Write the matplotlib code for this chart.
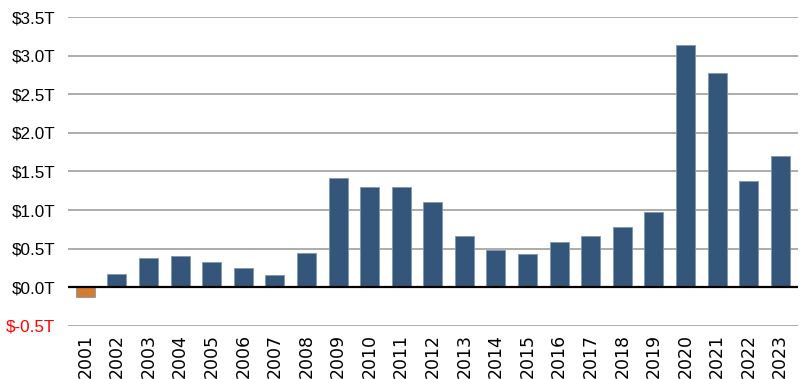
import matplotlib.pyplot as plt
import numpy as np

years = [str(y) for y in range(2001, 2024)]
values = [-0.12, 0.17, 0.38, 0.40, 0.33, 0.255, 0.165, 0.45, 1.415, 1.295,
          1.295, 1.10, 0.67, 0.48, 0.435, 0.585, 0.67, 0.78, 0.98, 3.135,
          2.77, 1.38, 1.705]
yticks = [-0.5, 0.0, 0.5, 1.0, 1.5, 2.0, 2.5, 3.0, 3.5]

fig = plt.figure(figsize=(8, 3.79), dpi=100)
ax = fig.add_axes([0.085, 0.14, 0.912, 0.815])

x = np.arange(len(years))
colors = ['#d47b2f' if v < 0 else '#34567a' for v in values]
ax.bar(x, values, width=0.6, color=colors, edgecolor='#7f97b0', linewidth=0.6, zorder=3)

for t in yticks:
    ax.axhline(t, color='#a6a6a6', lw=1.3, zorder=1)
ax.axhline(0, color='black', lw=1.6, zorder=4)

ax.set_xlim(-0.55, len(years) - 0.45)
ax.set_ylim(-0.5, 3.5)
ax.set_yticks(yticks)
ax.set_yticklabels(['$%.1fT' % t for t in yticks], fontsize=12.3, family='Liberation Sans')
ax.get_yticklabels()[0].set_color('red')
ax.set_xticks(x)
ax.set_xticklabels(years, rotation=90, fontsize=12.5, family=['Liberation Sans Narrow', 'DejaVu Sans'])
ax.tick_params(axis='y', length=0, pad=9)
ax.tick_params(axis='x', length=0, pad=6)
for s in ax.spines.values():
    s.set_visible(False)

plt.savefig('out.png', dpi=100)
